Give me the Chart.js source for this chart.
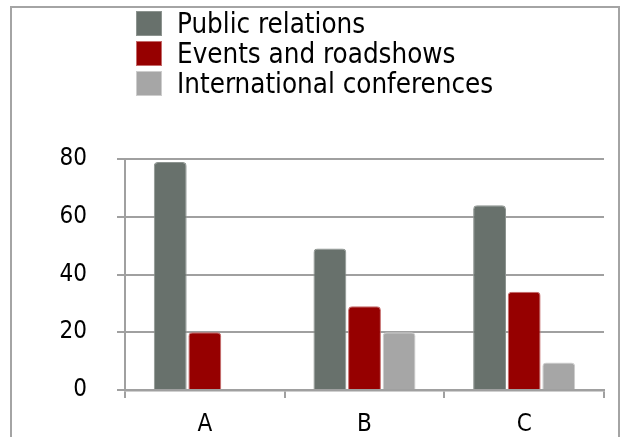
<!DOCTYPE html>
<html>
<head>
<meta charset="utf-8">
<script src="https://cdn.jsdelivr.net/npm/chart.js@4/dist/chart.umd.min.js"></script>
<style>
  html, body { margin: 0; padding: 0; background: #fff; }
  #wrap { position: relative; width: 621px; height: 437px; overflow: hidden; }
  #frame { position: absolute; left: 10px; top: 6px; width: 610px; height: 460px;
           border: 2px solid #a4a4a4; box-sizing: border-box; }
  #chart { position: absolute; left: 0; top: 0; }
  #legend { position: absolute; left: 136px; top: 8px;
            font-family: "DejaVu Sans Condensed", "DejaVu Sans", sans-serif;
            font-size: 27.5px; color: #000; }
  .item { display: flex; align-items: center; height: 30px; line-height: 30px; white-space: nowrap; }
  .box { width: 24px; height: 23px; border: 1px solid; margin-right: 15px; flex: none; }
</style>
</head>
<body>
<div id="wrap">
  <div id="frame"></div>
  <canvas id="chart" width="621" height="437"></canvas>
  <div id="legend"></div>
</div>
<script>
const categories = ["A", "B", "C"];
const seriesNames = ["Public relations", "Events and roadshows", "International conferences"];
const publicRelations = [79, 49, 64];
const eventsRoadshows = [20, 29, 34];
const internationalConferences = [0, 20, 9.5];
const yTicks = [0, 20, 40, 60, 80];

const fills = ["#68716c", "#960000", "#a6a6a6"];
const edges = ["#8d9490", "#c46a6a", "#cdcdcd"];
const seriesValues = [publicRelations, eventsRoadshows, internationalConferences];

const FONT = "'DejaVu Sans Condensed', 'DejaVu Sans', sans-serif";
const GRID = "#a0a0a0";

const datasets = seriesNames.map((name, i) => ({
  label: name,
  data: seriesValues[i],
  backgroundColor: fills[i],
  borderColor: edges[i],
  borderWidth: 1,
  borderSkipped: "bottom",
  borderRadius: { topLeft: 4, topRight: 4, bottomLeft: 0, bottomRight: 0 },
  categoryPercentage: 0.65,
  barPercentage: 0.95
}));

// legend as a vertical list
const legend = document.getElementById("legend");
datasets.forEach(ds => {
  const row = document.createElement("div");
  row.className = "item";
  const box = document.createElement("span");
  box.className = "box";
  box.style.background = ds.backgroundColor;
  box.style.borderColor = ds.borderColor;
  const txt = document.createElement("span");
  txt.textContent = ds.label;
  row.appendChild(box);
  row.appendChild(txt);
  legend.appendChild(row);
});

new Chart(document.getElementById("chart"), {
  type: "bar",
  data: { labels: categories, datasets },
  options: {
    responsive: false,
    animation: false,
    layout: { padding: { top: 159, right: 17, bottom: 0, left: 0 } },
    plugins: { legend: { display: false }, tooltip: { enabled: false } },
    scales: {
      x: {
        z: 1,
        offset: true,
        grid: {
          offset: true,
          lineWidth: 2,
          color: ctx => ctx.index === categories.length ? GRID : "rgba(0,0,0,0)",
          tickColor: GRID,
          tickLength: 8,
          drawOnChartArea: true
        },
        border: { display: true, color: GRID, width: 2.5 },
        ticks: { color: "#000", font: { family: FONT, size: 24 }, padding: 12 },
        afterFit: s => { s.height = 47; }
      },
      y: {
        min: 0,
        max: 80,
        afterBuildTicks: s => { s.ticks = yTicks.map(v => ({ value: v })); },
        grid: { color: GRID, lineWidth: 2, tickColor: GRID, tickLength: 8 },
        border: { display: true, color: GRID, width: 2 },
        ticks: { color: "#000", font: { family: FONT, size: 24 }, padding: 30 },
        afterFit: s => { s.width = 125; }
      }
    }
  }
});
</script>
</body>
</html>
